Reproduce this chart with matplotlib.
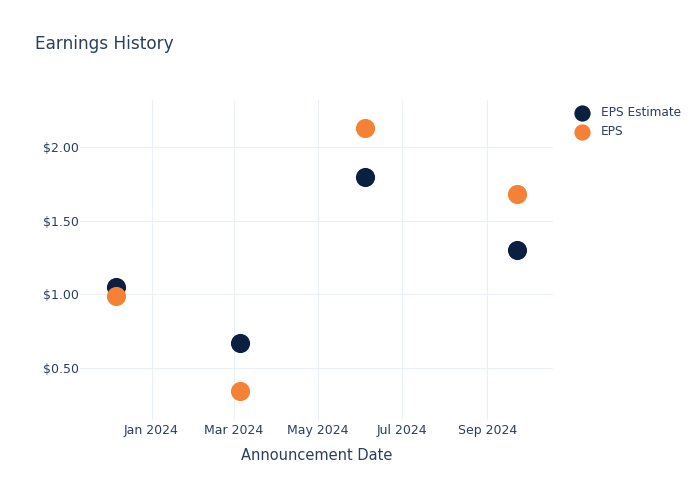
import matplotlib
matplotlib.use("Agg")
import matplotlib.pyplot as plt
import matplotlib.dates as mdates
import numpy as np
import datetime as dt

dates = ["2023-12-06", "2024-03-05", "2024-06-04", "2024-09-23"]
eps_estimate = [1.05, 0.67, 1.80, 1.30]
eps_actual = [0.99, 0.34, 2.13, 1.68]

navy = "#0b1f40"
orange = "#f58137"
txt = "#2a3f5f"
grid = "#ebf0f8"

x = [dt.datetime.strptime(d, "%Y-%m-%d") for d in dates]

fig = plt.figure(figsize=(7, 5), dpi=100)
ax = fig.add_axes([0.1143, 0.16, 0.676, 0.64])

ax.scatter(x, eps_estimate, s=190, color=navy, label="EPS Estimate", zorder=3, linewidths=0)
ax.scatter(x, eps_actual, s=190, color=orange, label="EPS", zorder=4, linewidths=0)

ax.set_xlim(dt.datetime(2023, 11, 10), dt.datetime(2024, 10, 19))
ax.set_ylim(0.146, 2.32)
ax.set_yticks([0.5, 1.0, 1.5, 2.0])
ax.yaxis.set_major_formatter(plt.FuncFormatter(lambda v, p: "${:.2f}".format(v)))
ax.xaxis.set_major_locator(mdates.MonthLocator(bymonth=[1, 3, 5, 7, 9]))
ax.xaxis.set_major_formatter(mdates.DateFormatter("%b %Y"))

ax.grid(True, color=grid, linewidth=0.8)
ax.set_axisbelow(True)
for s in ax.spines.values():
    s.set_visible(False)
ax.tick_params(axis="y", length=0, colors=txt, labelsize=9, pad=1)
ax.tick_params(axis="x", length=0, colors=txt, labelsize=9, pad=3)

ax.set_xlabel("Announcement Date", color=txt, fontsize=10.5, labelpad=8)
fig.text(0.05, 0.912, "Earnings History", color=txt, fontsize=12.2, va="center")

leg = ax.legend(loc="upper left", bbox_to_anchor=(1.013, 1.015), frameon=False,
                fontsize=8.7, labelcolor=txt, handletextpad=0.55, labelspacing=0.5,
                markerscale=0.85)

fig.savefig("out.png", dpi=100)
